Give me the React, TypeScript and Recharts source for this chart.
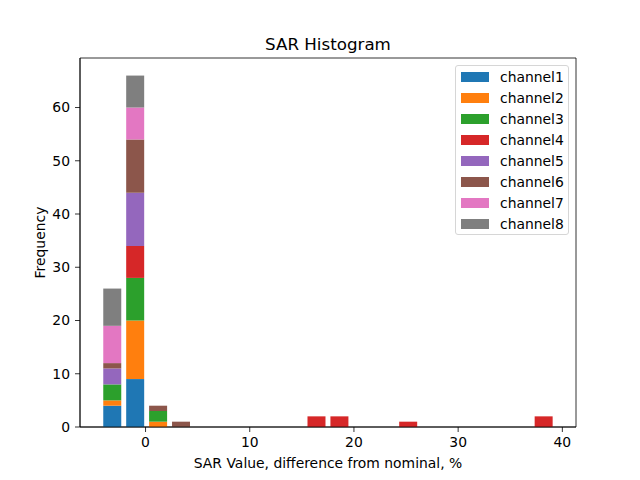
import React from 'react';
import { ComposedChart, Bar, XAxis, YAxis, Legend, ReferenceArea } from 'recharts';

const binCenters = [-3.2, -1.0, 1.2, 3.4, 5.5, 7.7, 9.9, 12.1, 14.3, 16.4, 18.6, 20.8, 23.0, 25.2, 27.3, 29.5, 31.7, 33.9, 36.1, 38.2];
const channel1 = [4, 9, 0, 0, 0, 0, 0, 0, 0, 0, 0, 0, 0, 0, 0, 0, 0, 0, 0, 0];
const channel2 = [1, 11, 1, 0, 0, 0, 0, 0, 0, 0, 0, 0, 0, 0, 0, 0, 0, 0, 0, 0];
const channel3 = [3, 8, 2, 0, 0, 0, 0, 0, 0, 0, 0, 0, 0, 0, 0, 0, 0, 0, 0, 0];
const channel4 = [0, 6, 0, 0, 0, 0, 0, 0, 0, 2, 2, 0, 0, 1, 0, 0, 0, 0, 0, 2];
const channel5 = [3, 10, 0, 0, 0, 0, 0, 0, 0, 0, 0, 0, 0, 0, 0, 0, 0, 0, 0, 0];
const channel6 = [1, 10, 1, 1, 0, 0, 0, 0, 0, 0, 0, 0, 0, 0, 0, 0, 0, 0, 0, 0];
const channel7 = [7, 6, 0, 0, 0, 0, 0, 0, 0, 0, 0, 0, 0, 0, 0, 0, 0, 0, 0, 0];
const channel8 = [7, 6, 0, 0, 0, 0, 0, 0, 0, 0, 0, 0, 0, 0, 0, 0, 0, 0, 0, 0];

const seriesNames = ['channel1', 'channel2', 'channel3', 'channel4', 'channel5', 'channel6', 'channel7', 'channel8'];
const seriesValues = [channel1, channel2, channel3, channel4, channel5, channel6, channel7, channel8];
const colors = ['#1f77b4', '#ff7f0e', '#2ca02c', '#d62728', '#9467bd', '#8c564b', '#e377c2', '#7f7f7f'];

const xTicks = [0, 10, 20, 30, 40];
const yTicks = [0, 10, 20, 30, 40, 50, 60];
const xDomain: [number, number] = [-6.29, 41.31];
const yDomain: [number, number] = [0, 69.3];

const data = binCenters.map((x, i) => {
  const row: Record<string, number> = { x };
  seriesNames.forEach((n, k) => {
    row[n] = seriesValues[k][i];
  });
  return row;
});

const FONT = 'DejaVu Sans';
const tickStyle = { fill: '#000', fontSize: 13.9, fontFamily: FONT };

const LegendBox = () => (
  <div
    style={{
      width: 114,
      height: 170,
      border: '1px solid #d6d6d6',
      borderRadius: 3,
      background: 'rgba(255,255,255,0.8)',
      boxSizing: 'border-box',
      position: 'relative',
      fontFamily: FONT,
      fontSize: 13.9,
      color: '#000',
    }}
  >
    {seriesNames.map((n, i) => (
      <div
        key={n}
        style={{ position: 'absolute', left: 0, top: 1 + i * 21, height: 20, display: 'flex', alignItems: 'center' }}
      >
        <div style={{ width: 28, height: 10, background: colors[i], marginLeft: 5 }} />
        <span style={{ marginLeft: 11, lineHeight: '20px' }}>{n}</span>
      </div>
    ))}
  </div>
);

export default function App() {
  return (
    <div style={{ position: 'absolute', left: 0, top: 0, width: 640, height: 480, background: '#fff' }}>
      <ComposedChart
        width={640}
        height={480}
        data={data}
        margin={{ top: 58, right: 64, bottom: 8, left: 40 }}
      >
        <XAxis
          dataKey="x"
          type="number"
          domain={xDomain}
          ticks={xTicks}
          allowDataOverflow
          height={45}
          tick={tickStyle}
          tickSize={5}
          tickMargin={5}
          tickLine={{ stroke: '#000', strokeWidth: 0.8 }}
          axisLine={{ stroke: '#000', strokeWidth: 0.8 }}
          label={{
            value: 'SAR Value, difference from nominal, %',
            position: 'insideBottom',
            offset: 4,
            fill: '#000',
            fontSize: 13.9,
            fontFamily: FONT,
          }}
        />
        <YAxis
          type="number"
          domain={yDomain}
          ticks={yTicks}
          width={40}
          tick={tickStyle}
          tickSize={5}
          tickMargin={5}
          tickLine={{ stroke: '#000', strokeWidth: 0.8 }}
          axisLine={{ stroke: '#000', strokeWidth: 0.8 }}
          label={{
            content: (props: any) => {
              const vb = props.viewBox || { x: 40, y: 58, width: 40, height: 369 };
              const cx = vb.x;
              const cy = vb.y + vb.height / 2;
              return (
                <text
                  x={cx}
                  y={cy}
                  transform={`rotate(-90 ${cx} ${cy})`}
                  textAnchor="middle"
                  dominantBaseline="central"
                  fill="#000"
                  fontSize={13.9}
                  fontFamily={FONT}
                >
                  Frequency
                </text>
              );
            },
          }}
        />
        {seriesNames.map((n, i) => (
          <Bar
            key={n}
            dataKey={n}
            name={n}
            stackId="a"
            fill={colors[i]}
            barSize={18}
            isAnimationActive={false}
          />
        ))}
        <ReferenceArea
          x1={xDomain[0]}
          x2={xDomain[1]}
          y1={yDomain[0]}
          y2={yDomain[1]}
          fill="none"
          fillOpacity={0}
          stroke="#000"
          strokeWidth={0.8}
          ifOverflow="visible"
          label={{
            value: 'SAR Histogram',
            position: 'top',
            offset: 8,
            fill: '#000',
            fontSize: 16.7,
            fontFamily: FONT,
          }}
        />
        <Legend
          layout="vertical"
          align="center"
          verticalAlign="middle"
          content={() => <LegendBox />}
          wrapperStyle={{ position: 'absolute', left: 455, top: 65, width: 114, height: 170 }}
        />
      </ComposedChart>
    </div>
  );
}
